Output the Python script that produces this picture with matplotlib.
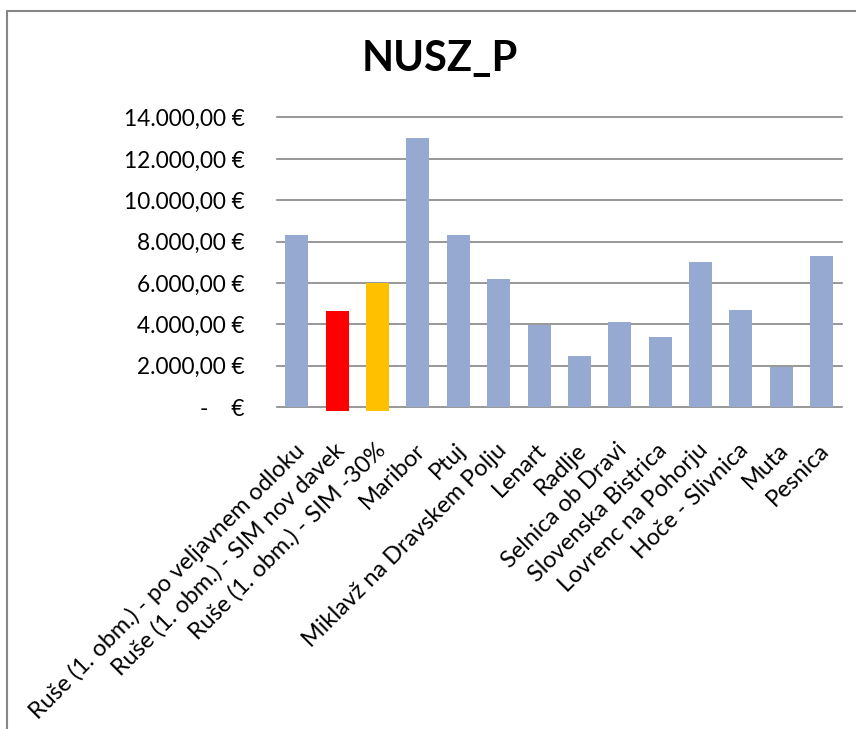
import numpy as np
import matplotlib as mpl
mpl.use('Agg')
import matplotlib.pyplot as plt
import matplotlib.transforms as mtransforms
from matplotlib.patches import Rectangle

plt.rcParams['font.family'] = ['Lato', 'DejaVu Sans']

# data
categories = ['Ruše (1. obm.) - po veljavnem odloku',
              'Ruše (1. obm.) - SIM nov davek',
              'Ruše (1. obm.) - SIM -30%',
              'Maribor', 'Ptuj', 'Miklavž na Dravskem Polju', 'Lenart', 'Radlje',
              'Selnica ob Dravi', 'Slovenska Bistrica', 'Lovrenc na Pohorju',
              'Hoče - Slivnica', 'Muta', 'Pesnica']
values = [8300, 4650, 6000, 13000, 8300, 6200, 3950, 2480,
          4130, 3400, 7020, 4680, 1950, 7300]
yticks = [0, 2000, 4000, 6000, 8000, 10000, 12000, 14000]

colors = ['#95A9D1'] * len(values)
colors[1] = '#FF0000'
colors[2] = '#FFC000'
# the two highlighted bars hang slightly below the baseline in the original
bottoms = [0.0] * len(values)
bottoms[1] = -180
bottoms[2] = -180

def euro(v, pos=None):
    if v == 0:
        return '-    €'
    s = '{:,.2f}'.format(v)
    s = s.replace(',', 'X').replace('.', ',').replace('X', '.')
    return s + ' €'

fig = plt.figure(figsize=(8.56, 7.29), dpi=100)
ax = fig.add_axes([276.7/856, 1 - 407/729, 565/856, (407 - 117.5)/729])

x = np.arange(len(values))
heights = [v - b for v, b in zip(values, bottoms)]
bars = ax.bar(x, heights, bottom=bottoms, width=0.57, color=colors,
              edgecolor='none', zorder=2)
for b in bars:
    b.set_clip_on(False)

ax.set_xlim(-0.5, len(values) - 0.5)
ax.set_ylim(0, 14000)
ax.set_yticks(yticks)
ax.yaxis.set_major_formatter(mpl.ticker.FuncFormatter(euro))
ax.grid(axis='y', color='#868686', linewidth=1.2, zorder=1)
ax.set_axisbelow(True)
for gl in ax.get_ygridlines():
    gl.set_clip_on(False)
for sp in ax.spines.values():
    sp.set_visible(False)
ax.tick_params(axis='y', length=0, pad=23, labelsize=16.3)
ax.tick_params(axis='x', length=0, labelsize=16.9)

ax.set_xticks(x)
ax.set_xticklabels(categories, rotation=45, ha='right', va='center',
                   rotation_mode='anchor')
offset = mtransforms.ScaledTranslation(4/100, -35/100, fig.dpi_scale_trans)
for lbl in ax.get_xticklabels():
    lbl.set_transform(lbl.get_transform() + offset)

fig.text(440/856, 1 - 59/729, 'NUSZ_P', ha='center', va='center',
         fontsize=30, fontweight='bold')

# chart area border (cut off on the right and bottom)
fig.patches.append(Rectangle((7/856, -0.1), 1.2, 1 - 11/729 + 0.1,
                             transform=fig.transFigure, fill=False,
                             edgecolor='#868686', linewidth=1.5))

fig.savefig('out.png', dpi=100)
